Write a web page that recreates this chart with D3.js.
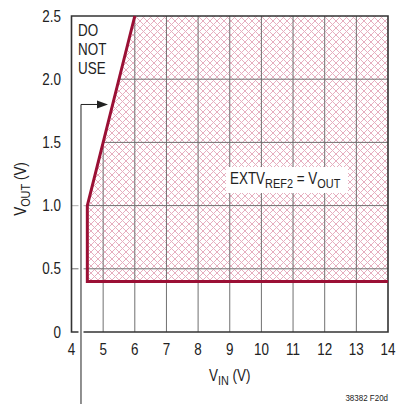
<!DOCTYPE html>
<html>
<head>
<meta charset="utf-8">
<script src="https://cdn.jsdelivr.net/npm/d3@7"></script>
<style>
  body { margin: 0; background: #fff; }
  svg text { font-family: "Liberation Sans", Arial, sans-serif; fill: #222; }
</style>
</head>
<body>
<svg id="chart" width="401" height="404"></svg>
<script>
// operating boundary (VIN, VOUT)
const boundaryVin = [14, 4.5, 4.5, 6];
const boundaryVout = [0.4, 0.4, 1.0, 2.5];
const xTicks = [4, 5, 6, 7, 8, 9, 10, 11, 12, 13, 14];
const yTicks = [0, 0.5, 1.0, 1.5, 2.0, 2.5];
const yTickLabels = ["0", "0.5", "1.0", "1.5", "2.0", "2.5"];
const arrowVin = 4.3;   // position of the pointer line
const arrowVout = 1.8;

const svg = d3.select("#chart");
const x = d3.scaleLinear().domain([4, 14]).range([71.5, 388]);
const y = d3.scaleLinear().domain([0, 2.5]).range([332, 16]);

const red = "#9b1035";
const gridColor = "#707070";
const squeeze = 0.84;   // condensed type look

// text placed at (px, py) and squeezed horizontally
function label(px, py, size, anchor) {
    return svg.append("text")
        .attr("transform", `translate(${px},${py}) scale(${squeeze},1)`)
        .attr("text-anchor", anchor || "start")
        .attr("font-size", size);
}

const defs = svg.append("defs");
const pat = defs.append("pattern")
    .attr("id", "hatch")
    .attr("patternUnits", "userSpaceOnUse")
    .attr("width", 7).attr("height", 7);
pat.append("path")
    .attr("d", "M0,0L7,7M7,0L0,7")
    .attr("stroke", "#e6aebf")
    .attr("stroke-width", 1)
    .attr("fill", "none");

const pts = boundaryVin.map((v, i) => [x(v), y(boundaryVout[i])]);

// hatched allowed region
const region = pts.concat([[x(14), y(2.5)]]);
svg.append("path")
    .attr("d", d3.line()(region) + "Z")
    .attr("fill", "url(#hatch)");

// grid
const grid = svg.append("g").attr("stroke", gridColor).attr("stroke-width", 1);
grid.selectAll("line.v")
    .data(xTicks.slice(1, -1))
    .join("line")
    .attr("x1", d => x(d)).attr("x2", d => x(d))
    .attr("y1", y(0)).attr("y2", y(2.5));
grid.selectAll("line.h")
    .data(yTicks.slice(1, -1))
    .join("line")
    .attr("x1", x(4)).attr("x2", x(14))
    .attr("y1", d => y(d)).attr("y2", d => y(d));

// "do not use" area blanks out the grid
svg.append("path")
    .attr("d", d3.line()([[x(4), y(2.5)], [x(6), y(2.5)], [x(4.5), y(1.0)], [x(4), y(1.0)]]) + "Z")
    .attr("fill", "#fff");

// frame
svg.append("path")
    .attr("d", `M${x(4)},${y(2.5)}H${x(14)}V${y(0)}H${x(4)}Z`)
    .attr("fill", "none")
    .attr("stroke", "#333")
    .attr("stroke-width", 1.6);

// boundary line
svg.append("path")
    .attr("d", d3.line()(pts))
    .attr("fill", "none")
    .attr("stroke", red)
    .attr("stroke-width", 3);

// pointer arrow
const ax = x(arrowVin), ay = y(arrowVout);
svg.append("path")
    .attr("d", `M${ax},404V${ay}`)
    .attr("stroke", "#fff").attr("stroke-width", 5);
svg.append("path")
    .attr("d", `M${ax},404V${ay}H${ax + 18}`)
    .attr("fill", "none")
    .attr("stroke", "#222").attr("stroke-width", 1);
svg.append("path")
    .attr("d", `M${ax + 27},${ay}L${ax + 16},${ay - 4}L${ax + 16},${ay + 4}Z`)
    .attr("fill", "#222");

// tick labels
xTicks.forEach(d => label(x(d), 355, 16, "middle").text(d));
yTicks.forEach((d, i) => label(61, y(d) + 5.5, 16, "end").text(yTickLabels[i]));

// axis titles
const xt = label((x(4) + x(14)) / 2, 381, 16, "middle");
xt.append("tspan").text("V");
xt.append("tspan").attr("font-size", 13).attr("dy", 4).text("IN");
xt.append("tspan").attr("dy", -4).text(" (V)");

const yt = svg.append("text")
    .attr("transform", `translate(26,189) rotate(-90) scale(${squeeze},1)`)
    .attr("text-anchor", "middle").attr("font-size", 16);
yt.append("tspan").text("V");
yt.append("tspan").attr("font-size", 13).attr("dy", 4).text("OUT");
yt.append("tspan").attr("dy", -4).text(" (V)");

// annotations
["DO", "NOT", "USE"].forEach((t, i) => label(78, 36 + i * 18.8, 16).text(t));

svg.append("rect")
    .attr("x", 226).attr("y", 167).attr("width", 122).attr("height", 26)
    .attr("fill", "#fff");
const ev = label(230, 184, 16);
ev.append("tspan").text("EXTV");
ev.append("tspan").attr("font-size", 13).attr("dy", 4).text("REF2");
ev.append("tspan").attr("dy", -4).text(" = V");
ev.append("tspan").attr("font-size", 13).attr("dy", 4).text("OUT");

label(388, 401, 9.5, "end").text("38382 F20d");
</script>
</body>
</html>
